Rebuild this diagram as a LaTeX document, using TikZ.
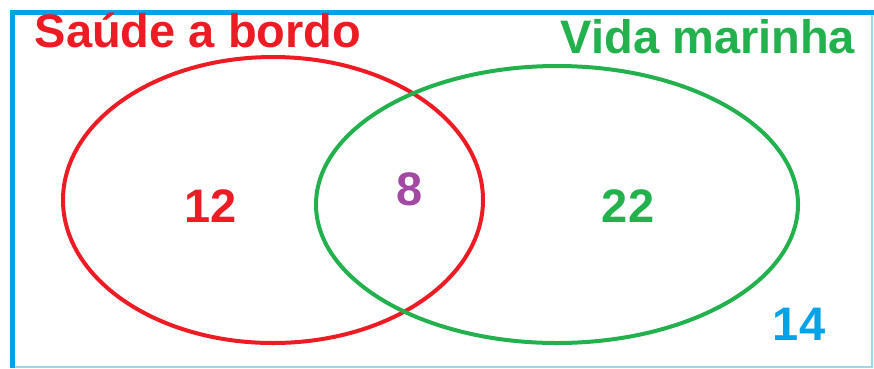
\documentclass[tikz,border=0pt]{standalone}
\usepackage{fontspec}
\setmainfont{Liberation Sans}
\usetikzlibrary{shapes.geometric}
\definecolor{pred}{HTML}{ED1C24}
\definecolor{pgreen}{HTML}{22B14C}
\definecolor{ppurple}{HTML}{A349A4}
\definecolor{pblue}{HTML}{00A2E8}
\definecolor{plight}{HTML}{99D9EA}
\begin{document}
\begin{tikzpicture}[x=1pt,y=-1pt,
  setshape/.style={ellipse,draw,line width=4pt,inner sep=0pt},
  title/.style={font=\fontsize{47}{50}\selectfont\bfseries,anchor=base,inner sep=0pt},
  count/.style={font=\fontsize{47}{50}\selectfont\bfseries,anchor=base,inner sep=0pt}]
\useasboundingbox (0,0) rectangle (874,368);
\fill[white] (0,0) rectangle (874,368);
% frame
\draw[plight,line width=1.5pt] (12,367) -- (872,367) -- (872,12);
\draw[pblue,line width=5pt] (12,368) -- (12,12) -- (874,12);
% sets
\node[setshape,draw=pred,minimum width=420pt,minimum height=286pt] (saude) at (273,200) {};
\node[setshape,draw=pgreen,minimum width=482pt,minimum height=277pt] (vida) at (557,204.5) {};
% labels
\node[title,text=pred] (tsaude) at (198,47) {Saúde a bordo};
\node[title,text=pgreen] (tvida) at (708,53) {Vida marinha};
\node[count,text=pred] (n12) at (211,222) {12};
\node[count,text=ppurple] (n8) at (410,205) {8};
\node[count,text=pgreen] (n22) at (628,222) {22};
\node[count,text=pblue] (n14) at (799,340) {14};
\end{tikzpicture}
\end{document}
